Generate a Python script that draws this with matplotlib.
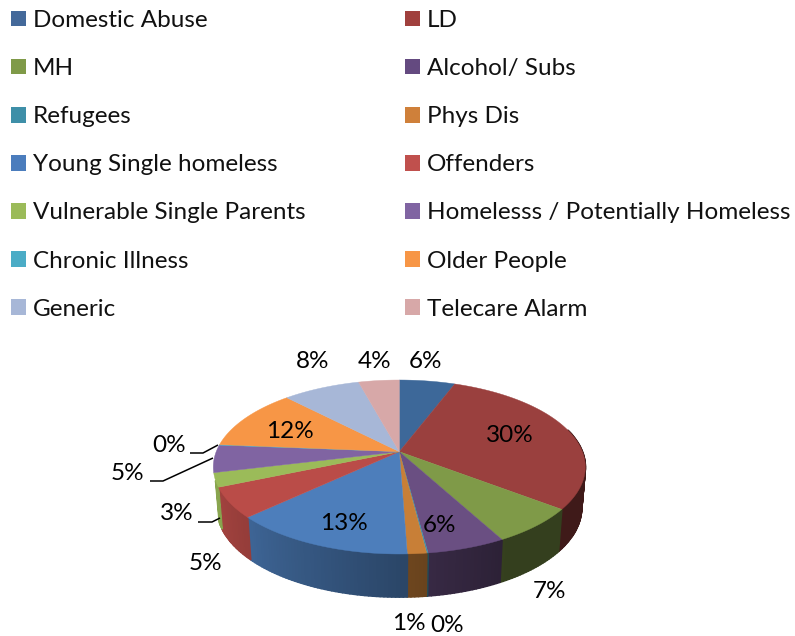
import numpy as np
import matplotlib
matplotlib.use("Agg")
import matplotlib.pyplot as plt
from matplotlib.patches import Patch

categories = ["Domestic Abuse", "LD", "MH", "Alcohol/ Subs", "Refugees", "Phys Dis",
              "Young Single homeless", "Offenders", "Vulnerable Single Parents",
              "Homelesss / Potentially Homeless", "Chronic Illness", "Older People",
              "Generic", "Telecare Alarm"]
values = [5.75, 29.8, 6.7, 5.8, 0.1, 1.4, 13.6, 5.6, 2.6, 5.1, 0.1, 11.5, 8.0, 4.2]
pct_labels = ["6%", "30%", "7%", "6%", "0%", "1%", "13%", "5%", "3%", "5%", "0%", "12%", "8%", "4%"]
top_colors = ["#3d6899", "#9a403e", "#7f9a48", "#6a4f82", "#3e8fa8", "#c87f37", "#4d7ebb",
              "#ba4c48", "#9bbb59", "#8064a2", "#4bacc6", "#f79646", "#a7b7d7", "#d7a8a8"]
legend_colors = ["#44699a", "#a0403d", "#7f9a48", "#644a80", "#3e8fa8", "#cf803a", "#4b7dbd",
                 "#c0504d", "#9bbb59", "#8064a2", "#4bacc6", "#f79646", "#a7b7d7", "#d7a8a8"]
label_pos = [(425, 362), (510, 436), (549, 592), (439, 525), (447, 626), (409, 624), (344, 523),
             (205, 563), (177, 513), (127, 474), (169, 446), (290, 432), (313, 362), (375, 362)]
leaders = [[(218, 445), (203, 453), (190, 453)],
           [(213, 458), (163, 481), (150, 481)],
           [(220, 518), (212, 522), (198, 522)]]

plt.rcParams["font.family"] = ["Lato", "DejaVu Sans"]
fig = plt.figure(figsize=(7.95, 6.36), dpi=100)
ax = fig.add_axes([0, 0, 1, 1])
ax.set_xlim(0, 795)
ax.set_ylim(636, 0)
ax.axis("off")

# perspective disc
CX, CY, A, B, K = 399.3, 451.7, 183.1, 84.3, 0.1759
DEPTH = 43.0


def top_xy(th):
    d = 1 + K * np.cos(th)
    return CX + A * np.sin(th) / d, CY - B * np.cos(th) / d


def bottom_xy(th):
    x, y = top_xy(th)
    return CX + (x - CX) * 0.98, y + DEPTH - 5 * (1 + np.cos(th)) / 2


def shade(col, f):
    return tuple(np.array(matplotlib.colors.to_rgb(col)) * f)


edges = np.cumsum([0] + values) / sum(values) * 2 * np.pi

# side wall
for i, col in enumerate(top_colors):
    t0, t1 = edges[i], edges[i + 1]
    n = max(2, int(np.degrees(t1 - t0)))
    ts = np.linspace(t0, t1, n + 1)
    for a, b in zip(ts[:-1], ts[1:]):
        mid = np.degrees((a + b) / 2)
        if mid < 75 or mid > 251:
            continue
        f = np.interp(mid, [150, 178, 227, 255], [0.41, 0.55, 0.8, 0.9])
        xa, ya = top_xy(a)
        xb, yb = top_xy(b)
        xc, yc = bottom_xy(b)
        xd, yd = bottom_xy(a)
        c = shade(col, f)
        ax.fill([xa, xb, xc, xd], [ya, yb, yc, yd], facecolor=c, edgecolor=c, lw=1.3,
                joinstyle="round", zorder=2)

# top surface
for i, col in enumerate(top_colors):
    ts = np.linspace(edges[i], edges[i + 1], max(3, int(np.degrees(edges[i + 1] - edges[i])) + 2))
    x, y = top_xy(ts)
    ax.fill(np.r_[CX, x], np.r_[CY, y], color=col, lw=0.3, zorder=3)

for pts in leaders:
    xs, ys = zip(*pts)
    ax.plot(xs, ys, color="black", lw=1.1, zorder=4, solid_capstyle="butt")

for lab, (x, y) in zip(pct_labels, label_pos):
    ax.text(x, y, lab, ha="center", va="center", fontsize=17.5, color="black", zorder=5)

handles = [Patch(facecolor=c, edgecolor="none", label=n) for c, n in zip(legend_colors, categories)]
order = list(range(0, 14, 2)) + list(range(1, 14, 2))
ax.legend([handles[i] for i in order], [categories[i] for i in order], ncol=2,
          loc="upper left", bbox_to_anchor=(10.5 / 795, 1 - 10 / 636), borderaxespad=0, borderpad=0,
          frameon=False, fontsize=17.5, labelspacing=1.115, handlelength=0.62, handleheight=0.62,
          handletextpad=0.3, columnspacing=4.08, labelcolor="#111111")

fig.savefig("out.png", dpi=100)
